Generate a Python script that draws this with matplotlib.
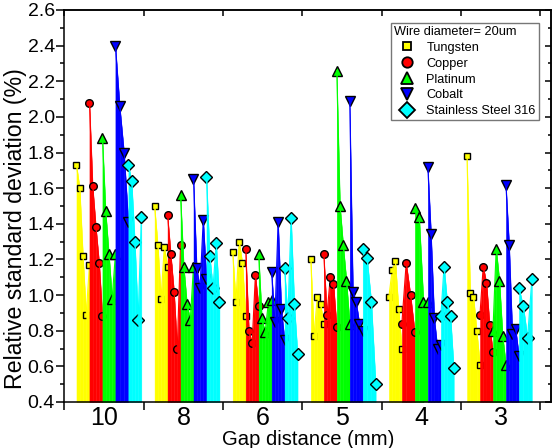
import matplotlib
matplotlib.use("Agg")
import matplotlib.pyplot as plt
from matplotlib.lines import Line2D
from matplotlib.ticker import MultipleLocator, FixedLocator, NullFormatter, FormatStrFormatter

plt.rcParams['font.family'] = ['Liberation Sans', 'DejaVu Sans']

# Gap distances (mm), one group each
gaps = ["10", "8", "6", "5", "4", "3"]

# Relative standard deviation (%) of repeated measurements, per material and gap
tungsten = [
    [1.73, 1.60, 1.22, 0.89, 1.17],
    [1.50, 1.28, 0.98, 1.27, 1.16],
    [1.24, 0.96, 1.30, 1.18, 0.88],
    [1.20, 0.77, 0.99, 0.95, 0.84],
    [0.99, 1.14, 1.19, 0.92, 0.70],
    [1.78, 1.01, 0.99, 0.80, 0.61],
]
copper = [
    [2.08, 1.61, 1.38, 1.18, 0.88],
    [1.45, 1.23, 1.02, 0.70, 1.28],
    [1.26, 0.80, 0.73, 1.11, 0.94],
    [1.23, 0.89, 1.10, 1.06, 0.82],
    [0.84, 1.18, 1.00, 0.79],
    [0.89, 1.16, 1.07, 0.83, 0.68],
]
platinum = [
    [1.88, 1.47, 1.23, 0.98, 1.23],
    [1.56, 1.16, 0.95, 0.86, 1.16],
    [1.23, 0.87, 0.79, 0.96, 0.97],
    [2.26, 1.50, 1.28, 1.08, 0.84],
    [1.49, 1.44, 0.96, 0.96],
    [0.80, 1.26, 1.08, 0.77, 0.61],
]
cobalt = [
    [2.40, 2.06, 1.80, 1.41],
    [1.65, 1.15, 1.04, 1.42, 1.09],
    [1.13, 0.85, 1.41, 0.92, 0.75],
    [2.09, 1.02, 0.96, 0.84, 0.80],
    [1.72, 1.34, 0.87, 0.70, 0.72],
    [1.62, 1.28, 0.78, 0.81, 0.66],
]
steel316 = [
    [1.73, 1.64, 1.30, 0.86, 1.44],
    [1.66, 1.22, 1.04, 1.29, 0.96],
    [1.15, 0.87, 1.43, 0.95, 0.67],
    [1.26, 1.21, 0.96, 0.50],
    [0.88, 1.16, 0.96, 0.88, 0.59],
    [1.04, 0.94, 0.76, 1.09],
]

materials = ["Tungsten", "Copper", "Platinum", "Cobalt", "Stainless Steel 316"]
series = [tungsten, copper, platinum, cobalt, steel316]
colors = ["#FFFF00", "#FF0000", "#00FF00", "#0000FF", "#00FFFF"]
markers = ["s", "o", "^", "v", "D"]
msizes = [5.0, 5.5, 7.0, 7.0, 6.5]
legend_msizes = [6.0, 7.5, 9.0, 9.0, 8.5]

BASE = 0.4
fig = plt.figure(figsize=(5.53, 4.48), dpi=100)
ax = fig.add_axes([0.1166, 0.1027, 0.8804, 0.875])

group_start0 = 0.151   # left edge of the first band in a group
group_step = 0.985     # spacing between groups
band_w = 0.1637        # width of one material band


def draw_point(x, y, col, mk, ms):
    ax.plot([x], [y], ls="none", marker=mk, ms=ms, mfc=col, mec="black",
            mew=1.0, zorder=2)


# each band is drawn segment by segment: the area under a segment is laid
# down after the symbol at its left end, so rising segments overlap it
for data, col, mk, ms in zip(series, colors, markers, msizes):
    for g, vals in enumerate(data):
        n = len(vals)
        x0 = group_start0 + g * group_step + series.index(data) * band_w
        xs = [x0 + band_w * j / (n - 1) for j in range(n)]
        draw_point(xs[0], vals[0], col, mk, ms)
        for j in range(n - 1):
            ax.fill_between(xs[j:j + 2], vals[j:j + 2], BASE, facecolor=col,
                            edgecolor=col, linewidth=0.3, zorder=2)
            ax.plot(xs[j:j + 2], vals[j:j + 2], color=col, lw=0.8, zorder=2)
            draw_point(xs[j + 1], vals[j + 1], col, mk, ms)

ax.set_xlim(0, 6.14)
ax.set_ylim(0.4, 2.6)

# x: ticks at group boundaries, labels at group centres
ax.xaxis.set_major_locator(FixedLocator(range(7)))
ax.xaxis.set_major_formatter(NullFormatter())
ax.xaxis.set_minor_locator(FixedLocator([i + 0.5 for i in range(6)]))
ax.set_xticklabels(gaps, minor=True)
ax.tick_params(axis="x", which="major", direction="out", length=6, width=1.1)
ax.tick_params(axis="x", which="minor", length=0, labelsize=18, pad=3)

ax.yaxis.set_major_locator(MultipleLocator(0.2))
ax.yaxis.set_minor_locator(MultipleLocator(0.1))
ax.yaxis.set_major_formatter(FormatStrFormatter("%.1f"))
ax.tick_params(axis="y", which="major", direction="out", length=5.5, width=1.1,
               labelsize=14, pad=1.5)
ax.tick_params(axis="y", which="minor", direction="out", length=3, width=1.1)

for sp in ax.spines.values():
    sp.set_linewidth(1.1)

# mirrored inward ticks on top and right
top = ax.secondary_xaxis("top")
top.xaxis.set_major_locator(FixedLocator(range(7)))
top.xaxis.set_major_formatter(NullFormatter())
top.tick_params(direction="in", length=4.5, width=1.1)
top.spines["top"].set_linewidth(1.1)

right = ax.secondary_yaxis("right")
right.yaxis.set_major_locator(MultipleLocator(0.2))
right.yaxis.set_minor_locator(MultipleLocator(0.1))
right.yaxis.set_major_formatter(NullFormatter())
right.tick_params(which="major", direction="in", length=4.5, width=1.1)
right.tick_params(which="minor", direction="in", length=2.5, width=1.1)
right.spines["right"].set_linewidth(1.1)

ax.set_xlabel("Gap distance (mm)", fontsize=14.6, labelpad=0)
ax.set_ylabel("Relative standard deviation (%)", fontsize=16.7)
ax.yaxis.set_label_coords(-0.078, 0.443)

handles = [Line2D([], [], ls="none", marker=mk, ms=lms, mfc=col, mec="black", mew=1.3)
           for mk, lms, col in zip(markers, legend_msizes, colors)]
leg = ax.legend(handles, materials, title="Wire diameter= 20um",
                loc="upper left", bbox_to_anchor=(0.67, 0.967),
                fontsize=9.2, title_fontsize=9.2, frameon=True, fancybox=False,
                edgecolor="#555555", borderpad=0.25, borderaxespad=0,
                handlelength=2.0, handletextpad=0.55, labelspacing=0.3,
                alignment="left")
leg.get_frame().set_linewidth(1.0)
leg.set_zorder(20)

fig.savefig("out.png", dpi=100)
